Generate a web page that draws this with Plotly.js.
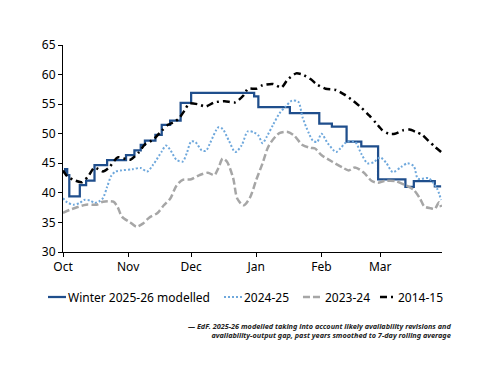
<!DOCTYPE html>
<html>
<head>
<meta charset="utf-8">
<script src="https://cdn.plot.ly/plotly-3.0.1.min.js"></script>
<style>
  html, body { margin: 0; padding: 0; background: #ffffff; }
  #chart { width: 500px; height: 386px; }
</style>
</head>
<body>
<div id="chart"></div>
<script>
// ---- Data ----
const seriesNames = ["Winter 2025-26 modelled", "2024-25", "2023-24", "2014-15"];
const seriesColors = ["#1F4E8C", "#6FA8DC", "#A6A6A6", "#000000"];
const seriesDashes = ["solid", "2px,2px", "7px,3px", "7px,4px,2px,4px"];
const seriesWidths = [2.25, 2, 2.5, 2.5];

const modelledDates = ["2025-10-01","2025-10-02","2025-10-03","2025-10-04","2025-10-09","2025-10-12","2025-10-16","2025-10-22","2025-10-31","2025-11-04","2025-11-07","2025-11-09","2025-11-14","2025-11-17","2025-11-21","2025-11-26","2025-12-01","2025-12-31","2026-01-02","2026-01-17","2026-01-31","2026-02-06","2026-02-13","2026-02-20","2026-02-28","2026-03-13","2026-03-17","2026-03-27","2026-03-30"];
const modelledValues = [43.5,44.0,43.0,39.4,41.3,42.05,44.7,45.55,46.4,47.2,48.1,48.85,49.8,51.5,52.2,55.2,56.9,56.3,54.5,53.5,51.7,51.2,48.65,47.85,42.3,41.0,42.0,41.1,41.1];

const y2425Dates = ["2025-10-01","2025-10-03","2025-10-06","2025-10-09","2025-10-11","2025-10-14","2025-10-16","2025-10-18","2025-10-20","2025-10-22","2025-10-24","2025-10-26","2025-10-29","2025-11-03","2025-11-07","2025-11-10","2025-11-13","2025-11-17","2025-11-19","2025-11-21","2025-11-24","2025-11-27","2025-11-29","2025-12-01","2025-12-03","2025-12-06","2025-12-08","2025-12-10","2025-12-14","2025-12-16","2025-12-19","2025-12-22","2025-12-25","2025-12-28","2025-12-31","2026-01-02","2026-01-04","2026-01-06","2026-01-09","2026-01-12","2026-01-15","2026-01-18","2026-01-21","2026-01-23","2026-01-26","2026-01-28","2026-01-30","2026-02-01","2026-02-04","2026-02-08","2026-02-10","2026-02-13","2026-02-17","2026-02-20","2026-02-23","2026-02-26","2026-03-01","2026-03-04","2026-03-07","2026-03-11","2026-03-14","2026-03-17","2026-03-19","2026-03-24","2026-03-26","2026-03-28","2026-03-30"];
const y2425Values = [39.1,38.4,38.0,38.3,38.8,38.7,38.3,38.5,39.1,41.0,42.9,43.6,43.8,44.0,44.2,43.6,44.8,47.0,48.0,47.3,45.6,45.3,46.8,48.7,48.6,47.2,47.1,48.4,51.1,50.8,48.8,46.9,48.0,50.4,50.2,49.7,48.4,49.5,51.5,53.4,54.6,55.6,55.4,52.8,50.1,48.8,48.6,50.0,48.4,46.9,47.5,48.6,48.6,46.6,45.0,45.2,46.0,45.0,43.5,44.4,45.0,44.5,42.4,42.5,41.8,40.8,38.8];

const y2324Dates = ["2025-10-01","2025-10-04","2025-10-08","2025-10-12","2025-10-17","2025-10-20","2025-10-25","2025-10-27","2025-10-29","2025-11-02","2025-11-05","2025-11-08","2025-11-11","2025-11-15","2025-11-18","2025-11-21","2025-11-24","2025-11-27","2025-12-01","2025-12-05","2025-12-09","2025-12-12","2025-12-14","2025-12-16","2025-12-18","2025-12-21","2025-12-23","2025-12-26","2025-12-29","2026-01-01","2026-01-04","2026-01-07","2026-01-12","2026-01-16","2026-01-19","2026-01-23","2026-01-27","2026-01-29","2026-02-01","2026-02-06","2026-02-11","2026-02-14","2026-02-17","2026-02-21","2026-02-25","2026-02-28","2026-03-03","2026-03-08","2026-03-13","2026-03-17","2026-03-20","2026-03-22","2026-03-25","2026-03-27","2026-03-29","2026-03-30"];
const y2324Values = [36.6,37.1,37.6,38.0,38.0,38.5,38.5,37.6,36.0,35.0,34.3,34.8,35.8,36.6,37.9,39.0,41.2,42.2,42.3,43.0,43.4,43.0,44.2,45.8,45.3,42.5,39.0,37.9,39.2,42.2,45.0,48.0,50.1,50.3,49.7,48.1,47.6,47.5,46.4,45.3,44.3,43.8,44.3,43.5,42.0,41.7,42.0,42.0,41.3,40.5,39.0,37.7,37.4,37.3,38.4,37.6];

const y1415Dates = ["2025-10-01","2025-10-03","2025-10-06","2025-10-10","2025-10-13","2025-10-16","2025-10-20","2025-10-23","2025-10-27","2025-11-02","2025-11-06","2025-11-09","2025-11-13","2025-11-17","2025-11-20","2025-11-23","2025-11-25","2025-11-28","2025-11-30","2025-12-04","2025-12-08","2025-12-12","2025-12-17","2025-12-22","2025-12-26","2025-12-28","2026-01-01","2026-01-04","2026-01-09","2026-01-13","2026-01-16","2026-01-20","2026-01-23","2026-01-27","2026-01-30","2026-02-03","2026-02-08","2026-02-12","2026-02-16","2026-02-20","2026-02-24","2026-02-27","2026-03-02","2026-03-05","2026-03-08","2026-03-12","2026-03-15","2026-03-18","2026-03-21","2026-03-24","2026-03-27","2026-03-30"];
const y1415Values = [43.8,42.8,42.2,41.8,42.8,44.3,43.6,44.3,46.0,45.6,46.8,48.2,49.0,50.5,51.5,52.0,52.5,54.0,55.1,55.0,54.6,55.3,55.5,55.3,56.5,57.6,57.6,58.2,58.4,57.8,59.2,60.2,60.0,59.2,58.3,57.6,57.4,56.6,55.6,54.4,53.0,51.8,50.6,50.0,50.0,50.6,50.7,50.3,49.8,48.8,47.8,46.9];

const monthTicks = ["2025-10-01","2025-11-01","2025-12-01","2026-01-01","2026-02-01","2026-03-01"];
const monthLabels = ["Oct","Nov","Dec","Jan","Feb","Mar"];
const noteText = "<i>— EdF. 2025-26 modelled taking into account likely availability revisions and<br>availability-output gap, past years smoothed to 7-day rolling average</i>";

// ---- Traces ----
const xs = [modelledDates, y2425Dates, y2324Dates, y1415Dates];
const ys = [modelledValues, y2425Values, y2324Values, y1415Values];
const shapes = ["hv", "spline", "spline", "spline"];
const traces = seriesNames.map((nm, i) => ({
  x: xs[i], y: ys[i], name: nm, type: "scatter", mode: "lines", showlegend: false,
  line: { color: seriesColors[i], width: seriesWidths[i], dash: seriesDashes[i],
          shape: shapes[i], smoothing: i === 3 ? 0.6 : 0.8 }
}));

// ---- Custom legend (paper coordinates) ----
const legY = -0.2174;
const legSample = [[-0.0396, 0.0079], [0.4248, 0.4723], [0.6332, 0.6860], [0.8364, 0.8760]];
const legTextX = [0.0106, 0.4749, 0.6887, 0.8813];
const legShapes = seriesNames.map((nm, i) => ({
  type: "line", xref: "paper", yref: "paper",
  x0: legSample[i][0], x1: legSample[i][1], y0: legY, y1: legY,
  line: { color: seriesColors[i], width: seriesWidths[i], dash: seriesDashes[i] }
}));
const legAnns = seriesNames.map((nm, i) => ({
  xref: "paper", yref: "paper", x: legTextX[i], y: legY, xanchor: "left", yanchor: "middle",
  showarrow: false, text: nm, borderpad: 0, font: { size: 12, color: "#000000" }
}));

const layout = {
  width: 500, height: 386,
  margin: { l: 63, r: 58, t: 45, b: 134 },
  paper_bgcolor: "#ffffff", plot_bgcolor: "#ffffff",
  font: { family: "Noto Sans, sans-serif", size: 12, color: "#000000" },
  showlegend: false,
  xaxis: {
    type: "date", range: ["2025-10-01", "2026-03-30 10:00"],
    tickvals: monthTicks, ticktext: monthLabels,
    showgrid: false, zeroline: false, showline: true, linecolor: "#000000", linewidth: 1,
    ticks: "outside", ticklen: 4, tickcolor: "#000000", tickfont: { size: 12 }
  },
  yaxis: {
    range: [30, 65], dtick: 5, tick0: 30,
    showgrid: false, zeroline: false, showline: true, linecolor: "#000000", linewidth: 1,
    ticks: "outside", ticklen: 4, tickcolor: "#000000", tickfont: { size: 12 }
  },
  shapes: legShapes,
  annotations: legAnns.concat([{
    xref: "paper", yref: "paper", x: 1.03, y: -0.377, xanchor: "right", yanchor: "middle",
    align: "right", showarrow: false, text: noteText,
    font: { size: 7.3, color: "#222222", weight: 700 }
  }])
};

Plotly.newPlot("chart", traces, layout, { displayModeBar: false, staticPlot: true });
</script>
</body>
</html>
